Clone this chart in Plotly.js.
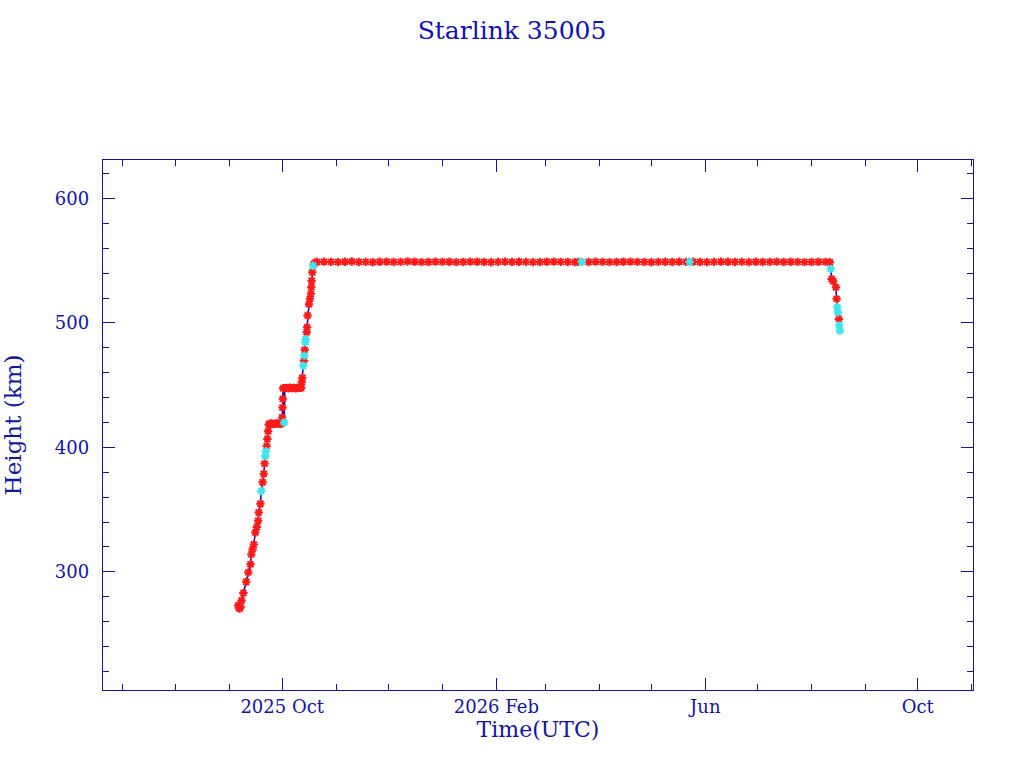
<!DOCTYPE html>
<html>
<head>
<meta charset="utf-8">
<script src="https://cdn.plot.ly/plotly-3.0.1.min.js"></script>
<style>
  html, body { margin: 0; padding: 0; background: #ffffff; }
  #chart { width: 1024px; height: 768px; }
</style>
</head>
<body>
<div id="chart"></div>
<script>
// Observation times (UTC)
let times = [
  "2025-09-05 18:00", "2025-09-06 04:00", "2025-09-06 14:00", "2025-09-07 02:00", "2025-09-07 16:00",
  "2025-09-08 17:00", "2025-09-10 08:00", "2025-09-11 12:00", "2025-09-12 19:00", "2025-09-13 07:00",
  "2025-09-14 00:00", "2025-09-14 16:00", "2025-09-15 14:00", "2025-09-16 10:00", "2025-09-17 05:00",
  "2025-09-17 12:00", "2025-09-18 12:00", "2025-09-19 00:00", "2025-09-19 18:00", "2025-09-20 10:00",
  "2025-09-20 22:00", "2025-09-21 07:00", "2025-09-21 16:00", "2025-09-22 02:00", "2025-09-22 12:00",
  "2025-09-22 22:00", "2025-09-23 06:00", "2025-09-24 00:00", "2025-09-25 00:00", "2025-09-26 00:00",
  "2025-09-27 00:00", "2025-09-28 00:00", "2025-09-29 00:00", "2025-09-30 00:00", "2025-09-30 18:00",
  "2025-10-01 00:00", "2025-10-01 04:00", "2025-10-01 08:00", "2025-10-01 12:00", "2025-10-02 04:00",
  "2025-10-02 12:00", "2025-10-03 12:00", "2025-10-04 12:00", "2025-10-05 12:00", "2025-10-06 12:00",
  "2025-10-07 12:00", "2025-10-08 12:00", "2025-10-09 12:00", "2025-10-10 12:00", "2025-10-11 12:00",
  "2025-10-12 00:00", "2025-10-12 05:00", "2025-10-12 14:00", "2025-10-13 03:00", "2025-10-13 12:00",
  "2025-10-13 17:00", "2025-10-13 22:00", "2025-10-14 07:00", "2025-10-14 12:00", "2025-10-15 02:00",
  "2025-10-15 07:00", "2025-10-15 14:00", "2025-10-16 09:00", "2025-10-16 22:00", "2025-10-17 12:00",
  "2025-10-17 17:00", "2025-10-17 22:00", "2025-10-18 07:00", "2025-10-18 19:00", "2025-10-19 06:00",
  "2025-10-20 00:00",
  "2025-10-21", "2025-10-25", "2025-10-29", "2025-11-02", "2025-11-06", "2025-11-10", "2025-11-14",
  "2025-11-18", "2025-11-22", "2025-11-26", "2025-11-30", "2025-12-04", "2025-12-08", "2025-12-12",
  "2025-12-16", "2025-12-20", "2025-12-24", "2025-12-28", "2026-01-01", "2026-01-05", "2026-01-09",
  "2026-01-13", "2026-01-17", "2026-01-21", "2026-01-25", "2026-01-29", "2026-02-02", "2026-02-06",
  "2026-02-10", "2026-02-14", "2026-02-18", "2026-02-22", "2026-02-26", "2026-03-02", "2026-03-06",
  "2026-03-10", "2026-03-14", "2026-03-18", "2026-03-20", "2026-03-22", "2026-03-26", "2026-03-30",
  "2026-04-03", "2026-04-07", "2026-04-11", "2026-04-15", "2026-04-19", "2026-04-23", "2026-04-27",
  "2026-05-01", "2026-05-05", "2026-05-09", "2026-05-13", "2026-05-17", "2026-05-21", "2026-05-23",
  "2026-05-25", "2026-05-29", "2026-06-02", "2026-06-06", "2026-06-10", "2026-06-14", "2026-06-18",
  "2026-06-22", "2026-06-26", "2026-06-30", "2026-07-04", "2026-07-08", "2026-07-12", "2026-07-16",
  "2026-07-20", "2026-07-24", "2026-07-28", "2026-08-01", "2026-08-05", "2026-08-09",
  "2026-08-11 14:00", "2026-08-12 00:00", "2026-08-12 14:00", "2026-08-13 12:00", "2026-08-15 00:00",
  "2026-08-15 10:00", "2026-08-15 19:00", "2026-08-16 05:00", "2026-08-16 17:00", "2026-08-16 22:00",
  "2026-08-17 07:00"
];

// Height (km)
let heights = [
  273, 271, 270.5, 272, 277,
  283, 292, 299.5, 306, 314,
  318, 322, 331.6, 336, 341,
  347.7, 354.7, 365, 372, 378.8,
  387, 393, 397, 401, 406.7,
  413, 418.5, 419, 419.2, 418.8,
  419, 419.3, 418.9, 419, 419.2,
  424, 432, 439, 447.5, 420,
  447.6, 447.8, 447.5, 447.9, 447.6,
  447.8, 447.5, 447.7, 448, 447.8,
  448, 452.3, 456, 465.7, 469.7,
  473.8, 478.4, 484.5, 487, 492.5,
  496.6, 506, 515, 519.4, 523.4,
  528.7, 534, 540.8, 546, 547.5,
  548.5,
  549.0, 549.3, 549.1, 548.9, 549.2, 549.4, 549.0,
  549.1, 548.8, 549.2, 549.3, 549.0, 549.1, 549.4,
  549.2, 548.9, 549.0, 549.3, 549.1, 549.2, 548.9,
  549.0, 549.3, 549.2, 549.0, 548.8, 549.1, 549.3,
  549.0, 549.2, 549.1, 548.9, 549.0, 549.2, 549.3,
  549.1, 549.0, 548.9, 549.1, 549.2, 549.0, 549.3,
  549.1, 548.9, 549.0, 549.2, 549.3, 549.1, 549.0,
  548.8, 549.1, 549.2, 549.0, 549.3, 549.1, 549.0,
  549.2, 549.0, 548.9, 549.1, 549.3, 549.2, 549.0,
  549.1, 548.9, 549.2, 549.0, 549.1, 549.3, 549.0,
  549.2, 549.1, 548.9, 549.0, 549.2, 549.1,
  548.8, 543.5, 535.4, 533.5, 528.7,
  519.4, 512.6, 508.6, 503.3, 497.9,
  493.9
];

// Marker class: 0 = red, 1 = cyan
let flags = [
  0, 0, 0, 0, 0,
  0, 0, 0, 0, 0,
  0, 0, 0, 0, 0,
  0, 0, 1, 0, 0,
  0, 1, 1, 0, 0,
  0, 0, 0, 0, 0,
  0, 0, 0, 0, 0,
  0, 0, 0, 0, 1,
  0, 0, 0, 0, 0,
  0, 0, 0, 0, 0,
  0, 0, 0, 1, 0,
  1, 0, 1, 1, 0,
  0, 0, 0, 0, 0,
  0, 0, 0, 1, 0,
  0,
  0, 0, 0, 0, 0, 0, 0,
  0, 0, 0, 0, 0, 0, 0,
  0, 0, 0, 0, 0, 0, 0,
  0, 0, 0, 0, 0, 0, 0,
  0, 0, 0, 0, 0, 0, 0,
  0, 0, 0, 0, 1, 0, 0,
  0, 0, 0, 0, 0, 0, 0,
  0, 0, 0, 0, 0, 0, 1,
  0, 0, 0, 0, 0, 0, 0,
  0, 0, 0, 0, 0, 0, 0,
  0, 0, 0, 0, 0, 0,
  0, 1, 0, 0, 0,
  0, 1, 1, 0, 1,
  1
];

// Axis ticks
let xTickVals = ["2025-10-01", "2026-02-01", "2026-06-01", "2026-10-01"];
let xTickText = ["2025 Oct", "2026 Feb", "Jun", "Oct"];

const ink = "#1414a0";
const fontFamily = "DejaVu Serif, serif";

// Split points by marker colour
let redX = [], redY = [], cyanX = [], cyanY = [];
for (let i = 0; i < times.length; i++) {
    if (flags[i] === 1) {
        cyanX.push(times[i]);
        cyanY.push(heights[i]);
    } else {
        redX.push(times[i]);
        redY.push(heights[i]);
    }
}

// Connecting line
let lineTrace = {
    x: times,
    y: heights,
    mode: "lines",
    line: { color: "#0000b4", width: 1.5 },
    hoverinfo: "skip"
};

let redTrace = {
    x: redX,
    y: redY,
    mode: "markers",
    marker: {
        symbol: "asterisk-open",
        size: 7,
        color: "#ff1a1a",
        line: { color: "#ff1a1a", width: 2 }
    }
};

let cyanTrace = {
    x: cyanX,
    y: cyanY,
    mode: "markers",
    marker: {
        symbol: "asterisk-open",
        size: 7,
        color: "#3ce6f0",
        line: { color: "#3ce6f0", width: 2 }
    }
};

let layout = {
    width: 1024,
    height: 768,
    showlegend: false,
    paper_bgcolor: "#ffffff",
    plot_bgcolor: "#ffffff",
    margin: { l: 103, r: 51, t: 160, b: 78 },
    font: { family: fontFamily, color: ink, size: 18 },
    title: {
        text: "Starlink 35005",
        font: { family: fontFamily, color: "#1010b8", size: 25 },
        x: 0.5,
        xref: "container",
        y: 1 - 30 / 768,
        yref: "container",
        yanchor: "middle"
    },
    xaxis: {
        type: "date",
        range: ["2025-06-20 02:00", "2026-11-01 18:00"],
        tickvals: xTickVals,
        ticktext: xTickText,
        ticks: "inside",
        ticklen: 12,
        tickwidth: 1,
        tickcolor: ink,
        showline: true,
        linecolor: ink,
        linewidth: 1.2,
        mirror: "ticks",
        showgrid: false,
        zeroline: false,
        tickfont: { family: fontFamily, color: ink, size: 18 },
        minor: {
            ticks: "inside",
            ticklen: 6,
            tickcolor: ink,
            dtick: "M1",
            tick0: "2025-07-01",
            showgrid: false
        },
        title: {
            text: "Time(UTC)",
            font: { family: fontFamily, color: ink, size: 22 },
            standoff: 5
        }
    },
    yaxis: {
        range: [205, 631],
        tick0: 0,
        dtick: 100,
        ticks: "inside",
        ticklen: 12,
        tickwidth: 1,
        tickcolor: ink,
        showline: true,
        linecolor: ink,
        linewidth: 1.2,
        mirror: "ticks",
        showgrid: false,
        zeroline: false,
        ticklabelstandoff: 9,
        tickfont: { family: fontFamily, color: ink, size: 18 },
        minor: {
            ticks: "inside",
            ticklen: 6,
            tickcolor: ink,
            dtick: 20,
            showgrid: false
        },
        title: {
            text: "Height (km)",
            font: { family: fontFamily, color: ink, size: 23 },
            standoff: 26
        }
    }
};

Plotly.newPlot("chart", [lineTrace, redTrace, cyanTrace], layout, { displayModeBar: false, staticPlot: true });
</script>
</body>
</html>
